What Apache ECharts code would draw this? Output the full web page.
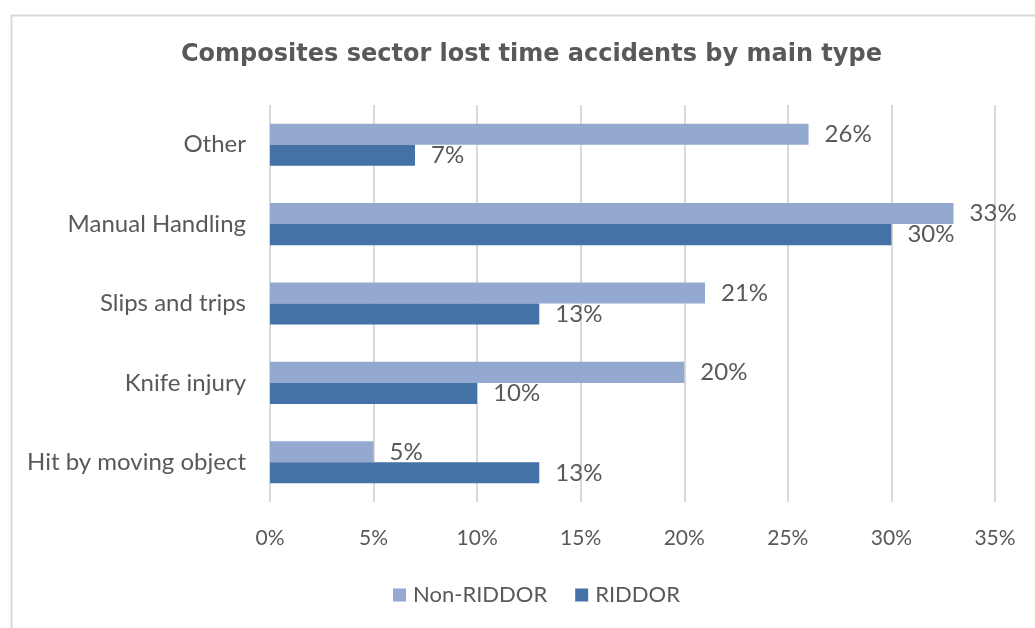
<!DOCTYPE html>
<html>
<head>
<meta charset="utf-8">
<script src="https://cdn.jsdelivr.net/npm/echarts@6/dist/echarts.min.js"></script>
<style>
html,body{margin:0;padding:0;background:#fff;}
#chart{width:1035px;height:628px;}
</style>
</head>
<body>
<div id="chart"></div>
<script>
const categories = ['Other', 'Manual Handling', 'Slips and trips', 'Knife injury', 'Hit by moving object'];
const nonRiddor = [26, 33, 21, 20, 5];
const riddor = [7, 30, 13, 10, 13];
const seriesNames = ['Non-RIDDOR', 'RIDDOR'];
const titleText = 'Composites sector lost time accidents by main type';

const chart = echarts.init(document.getElementById('chart'));
const textColor = '#595959';
const labelFont = 'Lato, "Open Sans", sans-serif';
chart.setOption({
  animation: false,
  graphic: [{
    type: 'rect', left: 9, top: 13, shape: {width: 1060, height: 660},
    style: {fill: 'none', stroke: '#d9d9d9', lineWidth: 2}
  }],
  title: {
    text: titleText, left: 176, top: 38,
    textStyle: {fontFamily: '"DejaVu Sans", sans-serif', fontWeight: 'bold', fontSize: 24, color: textColor}
  },
  legend: {
    data: seriesNames, bottom: 17, left: 388, itemWidth: 13, itemHeight: 13, itemGap: 28,
    icon: 'rect',
    textStyle: {fontFamily: labelFont, fontSize: 22, color: textColor, padding: [0, 0, 0, 2]}
  },
  grid: {left: 270, right: 40, top: 105, bottom: 126, containLabel: false},
  xAxis: {
    type: 'value', min: 0, max: 35, interval: 5,
    axisLine: {show: false}, axisTick: {show: false},
    splitLine: {lineStyle: {color: '#d9d9d9', width: 2}},
    axisLabel: {formatter: '{value}%', margin: 26, fontFamily: labelFont, fontSize: 21, color: textColor}
  },
  yAxis: {
    type: 'category', data: categories, inverse: true,
    axisLine: {show: false}, axisTick: {show: false},
    axisLabel: {margin: 24, fontFamily: labelFont, fontSize: 24, color: textColor}
  },
  series: [
    {
      name: seriesNames[0], type: 'bar', data: nonRiddor, barGap: '0%', barCategoryGap: '47%',
      itemStyle: {color: '#94a9d0'},
      label: {show: true, position: 'right', distance: 16, formatter: '{c}%', fontFamily: labelFont, fontSize: 24, color: textColor}
    },
    {
      name: seriesNames[1], type: 'bar', data: riddor, barGap: '0%', barCategoryGap: '47%',
      itemStyle: {color: '#4472a7'},
      label: {show: true, position: 'right', distance: 16, formatter: '{c}%', fontFamily: labelFont, fontSize: 24, color: textColor}
    }
  ]
});
</script>
</body>
</html>
